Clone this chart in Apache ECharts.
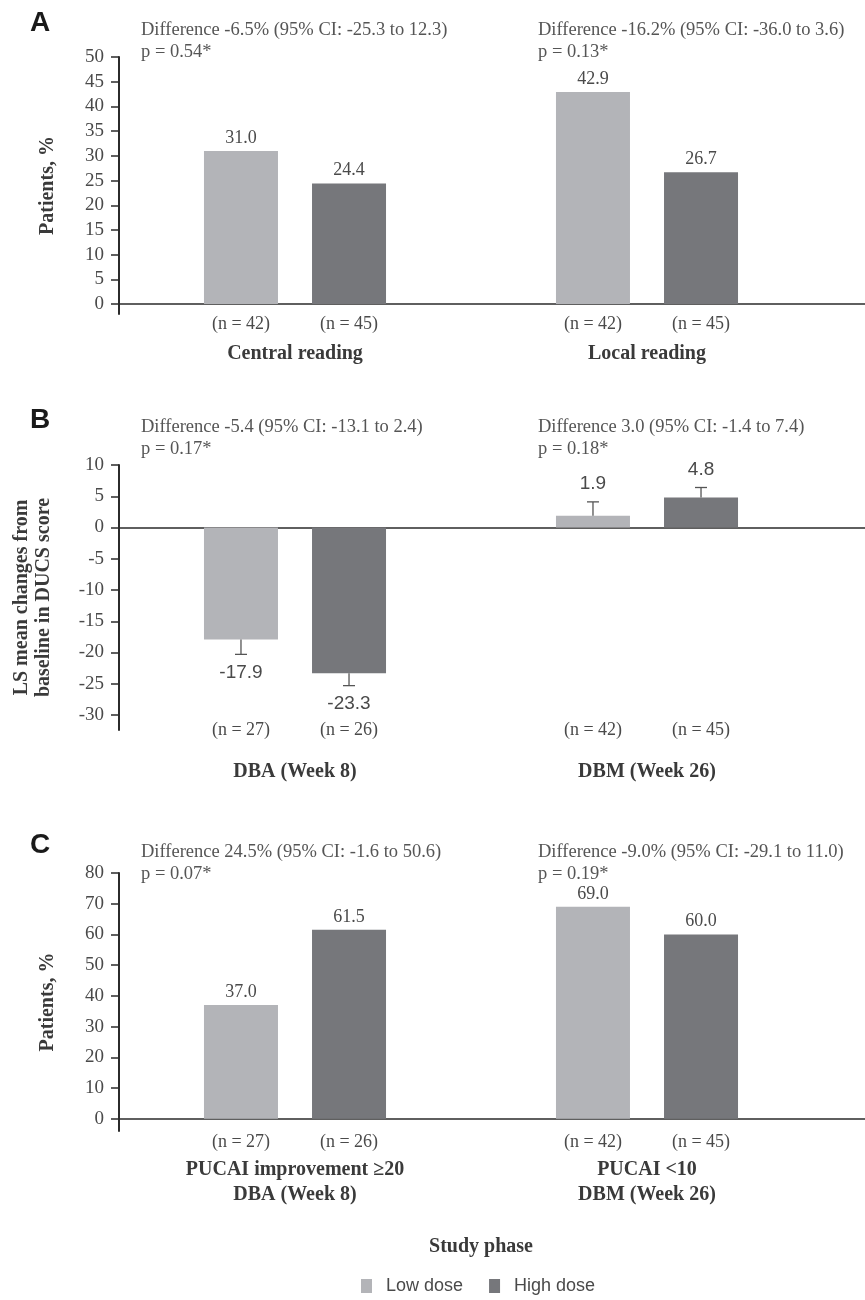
<!DOCTYPE html>
<html>
<head>
<meta charset="utf-8">
<script src="https://cdn.jsdelivr.net/npm/echarts@6/dist/echarts.min.js"></script>
<style>
html, body { margin: 0; padding: 0; background: #fff; }
#chart { width: 865px; height: 1300px; }
</style>
</head>
<body>
<div id="chart"></div>
<script>
// ========== data ==========
const seriesNames = ["Low dose", "High dose"];

// A: endoscopic response
const aCategories = [["Central reading"], ["Local reading"]];
const aLow = [31.0, 42.9];
const aHigh = [24.4, 26.7];
const aNLow = [42, 42];
const aNHigh = [45, 45];
const aTicks = [0, 5, 10, 15, 20, 25, 30, 35, 40, 45, 50];
const aNotes = [
  ["Difference -6.5% (95% CI: -25.3 to 12.3)", "p = 0.54*"],
  ["Difference -16.2% (95% CI: -36.0 to 3.6)", "p = 0.13*"]
];

// B: LS mean change in DUCS
const bCategories = [["DBA (Week 8)"], ["DBM (Week 26)"]];
const bLow = [-17.9, 1.9];
const bHigh = [-23.3, 4.8];
const bLowSE = [2.4, 2.2];
const bHighSE = [2.0, 1.6];
const bNLow = [27, 42];
const bNHigh = [26, 45];
const bTicks = [-30, -25, -20, -15, -10, -5, 0, 5, 10];
const bNotes = [
  ["Difference -5.4 (95% CI: -13.1 to 2.4)", "p = 0.17*"],
  ["Difference 3.0 (95% CI: -1.4 to 7.4)", "p = 0.18*"]
];

// C: PUCAI
const cCategories = [["PUCAI improvement \u226520", "DBA (Week 8)"], ["PUCAI <10", "DBM (Week 26)"]];
const cLow = [37.0, 69.0];
const cHigh = [61.5, 60.0];
const cNLow = [27, 42];
const cNHigh = [26, 45];
const cTicks = [0, 10, 20, 30, 40, 50, 60, 70, 80];
const cNotes = [
  ["Difference 24.5% (95% CI: -1.6 to 50.6)", "p = 0.07*"],
  ["Difference -9.0% (95% CI: -29.1 to 11.0)", "p = 0.19*"]
];

// ========== styles / layout ==========
const SERIF = '"Liberation Serif", "Times New Roman", serif';
const SANS = '"Liberation Sans", Arial, sans-serif';
const LIGHT = "#b3b4b8";
const DARK = "#76777b";
const TEXT = "#4a4a4a";
const AXIS = "#2b2b2b";
const BAR_W = 74;
const BAR_GAP = 0.46;
const HALF_STEP = (BAR_W + BAR_W * BAR_GAP) / 2;

const panels = [
  {
    letter: "A", letterTop: 9, noteTop: 19,
    top: 57, height: 257, min: -2, max: 50, barHeight: 257, barMin: -2,
    ticks: aTicks, yName: "Patients, %", nameGap: 60,
    cats: aCategories, low: aLow, high: aHigh, nLow: aNLow, nHigh: aNHigh,
    notes: aNotes, margin: 0, titleLH: [40], barLabels: true
  },
  {
    letter: "B", letterTop: 406, noteTop: 416,
    top: 465, height: 265, min: -32.4, max: 10, barHeight: 255, barMin: -30.8,
    ticks: bTicks, yName: "LS mean changes from\nbaseline in DUCS score", nameGap: 64,
    cats: bCategories, low: bLow, high: bHigh, nLow: bNLow, nHigh: bNHigh,
    notes: bNotes, margin: 0, titleLH: [64], barLabels: false
  },
  {
    letter: "C", letterTop: 831, noteTop: 841,
    top: 873, height: 258, min: -4, max: 80, barHeight: 258, barMin: -4,
    ticks: cTicks, yName: "Patients, %", nameGap: 60,
    cats: cCategories, low: cLow, high: cHigh, nLow: cNLow, nHigh: cNHigh,
    notes: cNotes, margin: 1, titleLH: [36, 14], barLabels: true
  }
];

const grid = [], xAxis = [], yAxis = [], series = [];
const title = [];

panels.forEach((p, i) => {
  const ga = i * 2, gb = i * 2 + 1;

  // panel letter + difference notes
  title.push({
    text: p.letter, left: 30, top: p.letterTop, padding: 0,
    textStyle: { fontFamily: SANS, fontSize: 28, fontWeight: "bold", color: "#1a1a1a" }
  });
  [141, 538].forEach((x, k) => {
    title.push({
      text: p.notes[k].join("\n"), left: x, top: p.noteTop, padding: 0,
      textStyle: { fontFamily: SERIF, fontSize: 18.5, fontWeight: "normal", color: "#555", lineHeight: 22 }
    });
  });

  // grid a: axis lines (full width) and y ticks
  grid.push({ left: 119, right: 0, top: p.top, height: p.height });
  xAxis.push({
    type: "value", gridIndex: ga, min: 0, max: 1,
    axisLine: { onZero: true, lineStyle: { color: AXIS, width: 1.5 } },
    axisTick: { show: false }, axisLabel: { show: false }, splitLine: { show: false }
  });
  yAxis.push({
    type: "value", gridIndex: ga, min: p.min, max: p.max,
    name: p.yName, nameLocation: "middle", nameGap: p.nameGap,
    nameTextStyle: { fontFamily: SERIF, fontSize: 20, fontWeight: "bold", color: "#3a3a3a", lineHeight: 22 },
    axisLine: { show: true, onZero: false, lineStyle: { color: AXIS, width: 2 } },
    axisTick: { show: true, length: 8, customValues: p.ticks, lineStyle: { color: AXIS, width: 1.5 } },
    axisLabel: { customValues: p.ticks, margin: 15, fontFamily: SERIF, fontSize: 19, color: TEXT },
    splitLine: { show: false }
  });

  // grid b: the bars on a category axis
  grid.push({ left: 119, width: 704, top: p.top, height: p.barHeight });
  const titleStyles = {};
  p.titleLH.forEach((lh, k) => {
    titleStyles["t" + k] = { fontFamily: SERIF, fontSize: 20, fontWeight: "bold", color: "#3a3a3a", lineHeight: lh, align: "center" };
  });
  xAxis.push({
    type: "category", gridIndex: gb, data: p.cats.map(c => c.join(" ")),
    axisLine: { show: false }, axisTick: { show: false },
    axisLabel: {
      margin: p.margin, interval: 0,
      formatter: (v, idx) =>
        `{n|(n = ${p.nLow[idx]})}{n|(n = ${p.nHigh[idx]})}\n` +
        p.cats[idx].map((l, k) => `{t${k}|${l}}`).join("\n"),
      rich: Object.assign({
        n: { fontFamily: SERIF, fontSize: 18, color: TEXT, width: 2 * HALF_STEP, align: "center", lineHeight: 20 }
      }, titleStyles)
    }
  });
  yAxis.push({ type: "value", gridIndex: gb, min: p.barMin, max: p.max, show: false });

  [p.low, p.high].forEach((vals, k) => {
    series.push({
      name: seriesNames[k], type: "bar", xAxisIndex: gb, yAxisIndex: gb,
      data: vals, barWidth: BAR_W, barGap: (BAR_GAP * 100) + "%",
      itemStyle: { color: k === 0 ? LIGHT : DARK },
      label: {
        show: p.barLabels, position: "top", distance: 4,
        fontFamily: SERIF, fontSize: 18, color: TEXT,
        formatter: d => d.value.toFixed(1)
      }
    });
  });
});

// error bars + value labels for panel B
[[bLow, bLowSE, -1], [bHigh, bHighSE, 1]].forEach(([vals, se, side], k) => {
  series.push({
    name: seriesNames[k] + " SE", type: "custom", xAxisIndex: 3, yAxisIndex: 3, z: 5,
    data: vals.map((v, i) => [i, v, se[i]]),
    renderItem: (params, api) => {
      const v = api.value(1);
      const dir = v < 0 ? -1 : 1;
      const base = api.coord([api.value(0), v]);
      const end = api.coord([api.value(0), v + dir * api.value(2)]);
      const x = base[0] + side * HALF_STEP;
      const ls = { stroke: "#555", lineWidth: 1.3 };
      return {
        type: "group",
        children: [
          { type: "line", shape: { x1: x, y1: base[1], x2: x, y2: end[1] }, style: ls },
          { type: "line", shape: { x1: x - 6, y1: end[1], x2: x + 6, y2: end[1] }, style: ls },
          {
            type: "text", x: x, y: end[1] - dir * 18,
            style: { text: v.toFixed(1), align: "center", verticalAlign: "middle", fontFamily: SANS, fontSize: 19, fill: TEXT }
          }
        ]
      };
    }
  });
});

title.push({
  text: "Study phase", left: 481, top: 1237, textAlign: "center", padding: 0,
  textStyle: { fontFamily: SERIF, fontSize: 20, fontWeight: "bold", color: "#3a3a3a" }
});

const chart = echarts.init(document.getElementById("chart"));
chart.setOption({
  animation: false,
  title: title,
  legend: {
    data: seriesNames, left: 361, top: 1277, padding: 0, icon: "rect",
    itemWidth: 11, itemHeight: 14, itemGap: 26,
    textStyle: { fontFamily: SANS, fontSize: 18, color: TEXT, padding: [0, 0, 0, 9] }
  },
  grid: grid,
  xAxis: xAxis,
  yAxis: yAxis,
  series: series
});
</script>
</body>
</html>
